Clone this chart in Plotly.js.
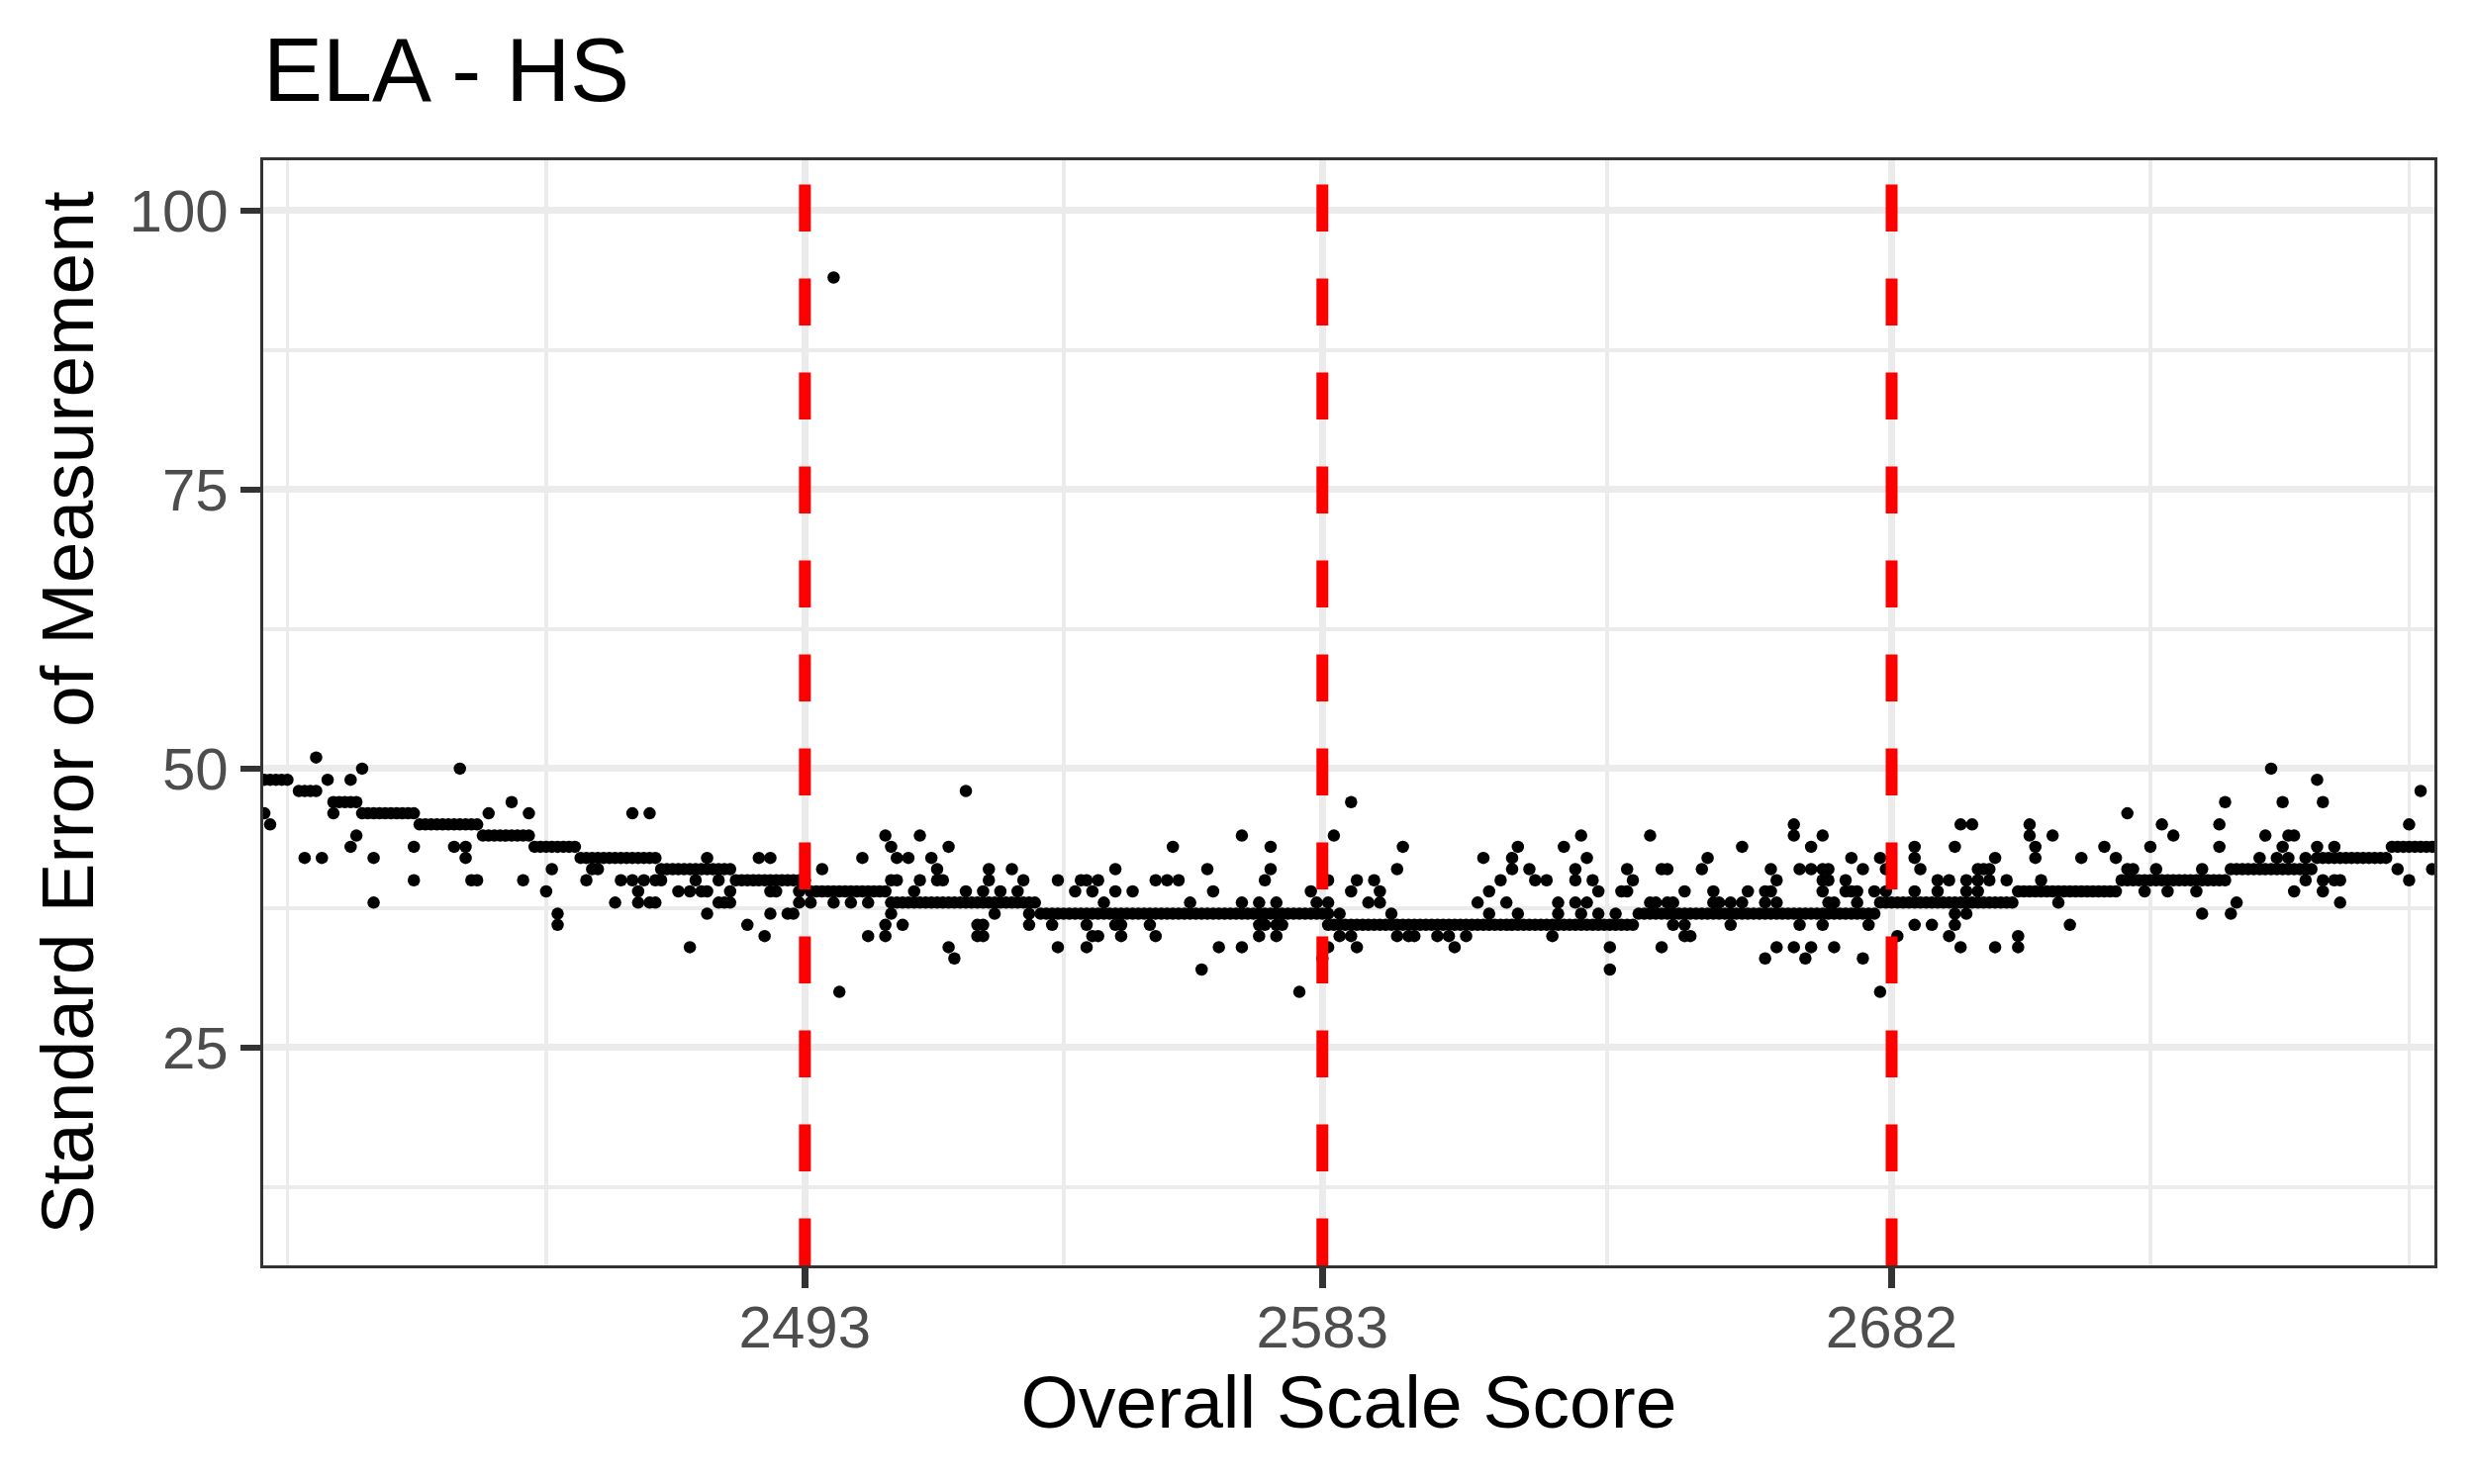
<!DOCTYPE html>
<html><head><meta charset="utf-8">
<script src="https://cdn.plot.ly/plotly-3.0.1.min.js"></script>
<style>html,body{margin:0;padding:0;background:#fff}#chart{width:2500px;height:1500px}</style>
</head><body><div id="chart"></div>
<script>
// Cut scores (red dashed lines) and x tick labels
const cutScores = [2493, 2583, 2682];
const xTickLabels = ['2493', '2583', '2682'];
const yTickVals = [25, 50, 75, 100];
const yTickLabels = ['25', '50', '75', '100'];

// Main band: the most common SEM at each scale score
const bandScore = [
2399,2400,2401,2402,2403,
2405,2406,2407,2408,
2411,2412,2413,2414,2415,
2416,2417,2418,2419,2420,2421,2422,2423,2424,2425,
2426,2427,2428,2429,2430,2431,2432,2433,2434,2435,2436,
2437,2438,2439,2440,2441,2442,2443,2444,2445,
2446,2447,2448,2449,2450,2451,2452,2453,
2454,2455,2456,2457,2458,2459,2460,2461,2462,2463,2464,2465,2466,2467,
2468,2469,2470,2471,2472,2473,2474,2475,2476,2477,2478,2479,2480,
2481,2482,2483,2484,2485,2486,2487,2488,2489,2490,2491,2492,2493,
2494,2495,2496,2497,2498,2499,2500,2501,2502,2503,2504,2505,2506,2507,
2508,2509,2510,2511,2512,2513,2514,2515,2516,2517,2518,2519,2520,2521,2522,2523,2524,2525,2526,2527,2528,2529,2530,2531,2532,2533,
2534,2535,2536,2537,2538,2539,2540,2541,2542,2543,2544,2545,2546,2547,2548,2549,2550,2551,2552,2553,2554,2555,2556,2557,2558,2559,2560,2561,2562,2563,2564,2565,2566,2567,2568,2569,2570,2571,2572,2573,2574,2575,2576,2577,2578,2579,2580,2581,2582,2583,2584,
2585,2586,2587,2588,2589,2590,2591,2592,2593,2594,2595,2596,2597,2598,2599,2600,2601,2602,2603,2604,2605,2606,2607,2608,2609,2610,2611,2612,2613,2614,2615,2616,2617,2618,2619,2620,2621,2622,2623,2624,2625,2626,2627,2628,2629,2630,2631,2632,2633,2634,2635,2636,2637,
2638,2639,2640,2641,2642,2643,2644,2645,2646,2647,2648,2649,2650,2651,2652,2653,2654,2655,2656,2657,2658,2659,2660,2661,2662,2663,2664,2665,2666,2667,2668,2669,2670,2671,2672,2673,2674,2675,2676,2677,2678,2679,
2680,2681,2682,2683,2684,2685,2686,2687,2688,2689,2690,2691,2692,2693,2694,2695,2696,2697,2698,2699,2700,2701,2702,2703,
2704,2705,2706,2707,2708,2709,2710,2711,2712,2713,2714,2715,2716,2717,2718,2719,2720,2721,
2722,2723,2724,2725,2726,2727,2728,2729,2730,2731,2732,2733,2734,2735,2736,2737,2738,2739,2740,
2741,2742,2743,2744,2745,2746,2747,2748,2749,2750,2751,2752,2753,2754,2755,
2756,2757,2758,2759,2760,2761,2762,2763,2764,2765,2766,2767,2768,
2769,2770,2771,2772,2773,2774,2775,2776
];
const bandSEM = [
49,49,49,49,49,
48,48,48,48,
47,47,47,47,47,
46,46,46,46,46,46,46,46,46,46,
45,45,45,45,45,45,45,45,45,45,45,
44,44,44,44,44,44,44,44,44,
43,43,43,43,43,43,43,43,
42,42,42,42,42,42,42,42,42,42,42,42,42,42,
41,41,41,41,41,41,41,41,41,41,41,41,41,
40,40,40,40,40,40,40,40,40,40,40,40,40,
39,39,39,39,39,39,39,39,39,39,39,39,39,39,
38,38,38,38,38,38,38,38,38,38,38,38,38,38,38,38,38,38,38,38,38,38,38,38,38,38,
37,37,37,37,37,37,37,37,37,37,37,37,37,37,37,37,37,37,37,37,37,37,37,37,37,37,37,37,37,37,37,37,37,37,37,37,37,37,37,37,37,37,37,37,37,37,37,37,37,37,37,
36,36,36,36,36,36,36,36,36,36,36,36,36,36,36,36,36,36,36,36,36,36,36,36,36,36,36,36,36,36,36,36,36,36,36,36,36,36,36,36,36,36,36,36,36,36,36,36,36,36,36,36,36,
37,37,37,37,37,37,37,37,37,37,37,37,37,37,37,37,37,37,37,37,37,37,37,37,37,37,37,37,37,37,37,37,37,37,37,37,37,37,37,37,37,37,
38,38,38,38,38,38,38,38,38,38,38,38,38,38,38,38,38,38,38,38,38,38,38,38,
39,39,39,39,39,39,39,39,39,39,39,39,39,39,39,39,39,39,
40,40,40,40,40,40,40,40,40,40,40,40,40,40,40,40,40,40,40,
41,41,41,41,41,41,41,41,41,41,41,41,41,41,41,
42,42,42,42,42,42,42,42,42,42,42,42,42,
43,43,43,43,43,43,43,43
];

// Scattered (less common) SEM values
const outScore = [
2399,2400,2406,2408,2409,2410,2411,2414,2414,2415,
2416,2418,2418,2425,2425,2432,2433,2434,2434,2435,
2436,2438,2442,2444,2445,2448,2449,2450,2450,2455,
2456,2457,2460,2461,
2463,2463,2464,2464,2465,2466,2466,2467,2467,2468,
2471,2473,2473,2474,2475,2476,2476,2476,2478,2478,
2479,2480,2480,2483,2485,2486,2487,2487,2487,2488,
2490,2491,2492,2492,2494,2496,2498,2498,2499,2501,
2503,2504,2504,2507,2507,2507,2508,2508,2508,2509,
2509,2510,2511,2512,2513,2513,2515,2516,2516,2517,
2518,2518,2519,2521,2521,2523,2523,2524,2524,
2524,2525,2525,2526,2527,2529,2530,2531,2532,2532,
2536,2537,2537,2540,2541,2542,2542,2542,2543,2543,
2544,2544,2545,2547,2547,2547,2548,2548,2550,2553,
2554,2554,2556,2557,2558,2560,2562,2563,2564,2565,
2569,2569,2569,2572,2572,2572,2573,2573,2574,2574,
2575,2575,2575,2576,2579,2581,2582,2583,2584,2584,2584,2584,2585,
2586,2586,2588,2588,2588,2589,2589,2591,2592,2593,
2593,2595,2596,2596,2597,2598,2599,2603,2605,2606,
2608,2610,2611,2612,2612,2614,2615,2616,2616,2617,
2617,2619,2620,2622,2623,2624,2624,2625,2627,2627,
2627,2628,2628,2629,2629,2630,2631,2631,2633,2633,
2634,2635,2636,2636,2637,2640,2640,2641,2642,2642,
2643,2643,2644,2644,2646,2646,2646,2647,2649,2650,
2651,2651,2652,2654,2654,2656,2656,2657,2660,2660,
2660,2661,2661,2662,2662,2662,2665,2665,2665,2666,
2666,2667,2668,2668,2668,2670,2670,2670,2670,2670,
2671,2671,2671,2672,2672,2674,2674,2675,2675,2676,
2676,2677,2677,2678,2679,2680,2680,2681,2681,2683,
2686,2686,2686,2686,2687,2689,2690,2690,2692,2692,
2693,2693,2693,2694,2694,2695,2695,2695,2696,2697,
2697,2697,2698,2699,2699,2700,2700,2702,2704,2704,
2706,2706,2707,2707,2708,2710,2711,
2713,2715,2719,2721,2723,2723,2724,2726,2727,2728,
2729,2730,2731,2735,2736,2736,2739,2739,2740,2741,
2742,2746,2747,2748,2749,2750,2750,2751,2751,2752,
2752,2754,2754,2756,2756,2757,2757,2757,2759,2759,
2760,2760,2770,2772,2772,2774,2776
];
const outSEM = [
46,45,42,51,42,49,46,49,43,44,
50,42,38,43,40,43,50,43,42,40,
40,46,47,40,46,39,41,37,36,40,
41,41,38,40,
46,40,39,38,40,46,38,40,38,40,
39,39,34,40,39,42,39,37,40,38,
38,39,38,36,42,35,42,39,37,39,
37,37,39,38,38,41,94,38,30,38,
42,38,35,44,36,35,43,40,37,42,
40,36,42,39,44,40,42,41,40,40,
43,34,33,48,39,36,35,36,35,
39,41,40,37,39,41,39,40,37,36,
36,40,34,39,40,40,36,34,39,35,
40,35,38,41,39,36,36,35,39,36,
40,35,40,43,40,38,32,41,39,34,
44,38,34,38,36,35,40,36,43,41,
38,36,35,36,30,39,38,33,40,38,36,34,44,
37,35,47,39,35,40,34,38,40,39,
38,37,41,35,43,35,35,35,35,34,
35,38,42,39,37,40,38,42,41,43,
37,41,40,40,35,38,37,43,41,40,
38,44,37,42,38,40,39,37,34,32,
37,39,41,39,40,44,38,38,41,34,
41,38,38,36,39,36,35,35,41,42,
39,38,38,38,36,43,38,39,39,38,
33,41,39,40,38,34,45,44,34,41,
36,33,43,41,34,44,41,40,39,36,
41,40,38,38,34,40,39,42,39,39,
38,41,33,36,39,42,30,41,39,35,
43,42,39,36,41,36,40,39,40,35,
43,37,36,45,34,40,39,37,45,41,
40,39,41,41,40,42,34,40,35,34,
45,44,43,42,40,44,38,
36,42,43,42,46,41,41,39,43,41,
45,39,44,39,41,37,45,43,47,37,
38,42,44,50,42,47,43,44,42,44,
39,42,40,49,43,47,40,39,43,40,
40,38,41,45,40,48,41
];

const FONT = '"Liberation Sans", Arial, Helvetica, sans-serif';
const GRID = '#EBEBEB';
const INK = '#333333';

const markerStyle = {color: '#000000', size: 12.5, line: {width: 0}};
const traces = [
  {type: 'scatter', mode: 'markers', x: bandScore, y: bandSEM, marker: markerStyle, hoverinfo: 'x+y', cliponaxis: true},
  {type: 'scatter', mode: 'markers', x: outScore, y: outSEM, marker: markerStyle, hoverinfo: 'x+y', cliponaxis: true}
];

const axisCommon = {
  showline: true, mirror: true, linecolor: INK, linewidth: 3.3,
  ticks: 'outside', ticklen: 20, tickwidth: 6.5, tickcolor: INK,
  tickfont: {size: 60, color: '#4D4D4D', family: FONT},
  showgrid: true, gridcolor: GRID, gridwidth: 7,
  zeroline: false, automargin: false
};

const layout = {
  width: 2500, height: 1500,
  margin: {l: 266, r: 40, t: 162, b: 221, pad: 0},
  paper_bgcolor: '#ffffff', plot_bgcolor: '#ffffff',
  font: {family: FONT, color: '#000000'},
  showlegend: false,
  title: {text: 'ELA - HS', font: {size: 90, color: '#000000', family: FONT},
          x: 0, xref: 'paper', xanchor: 'left', y: 1 - 70 / 1500, yref: 'container', yanchor: 'middle'},
  xaxis: Object.assign({}, axisCommon, {
    range: [2398.8, 2776.4],
    tickmode: 'array', tickvals: cutScores, ticktext: xTickLabels,
    ticklabelstandoff: -12,
    minor: {tickmode: 'array', tickvals: [2403, 2448, 2538, 2632.5, 2727, 2772], showgrid: true, gridcolor: GRID, gridwidth: 3.5, ticks: ''},
    title: {text: 'Overall Scale Score', font: {size: 75, color: '#000000', family: FONT}, standoff: 12}
  }),
  yaxis: Object.assign({}, axisCommon, {
    range: [5.5, 104.5],
    tickmode: 'array', tickvals: yTickVals, ticktext: yTickLabels,
    minor: {tickmode: 'array', tickvals: [12.5, 37.5, 62.5, 87.5], showgrid: true, gridcolor: GRID, gridwidth: 3.5, ticks: ''},
    title: {text: 'Standard Error of Measurement', font: {size: 75, color: '#000000', family: FONT}, standoff: 12}
  }),
  shapes: cutScores.map(c => ({
    type: 'line', xref: 'x', yref: 'paper', x0: c, x1: c, y0: 0, y1: 1,
    line: {color: '#FF0000', width: 12, dash: '47.5px,47.5px'}, layer: 'above'
  }))
};

Plotly.newPlot('chart', traces, layout, {displayModeBar: false, staticPlot: true});
</script></body></html>
